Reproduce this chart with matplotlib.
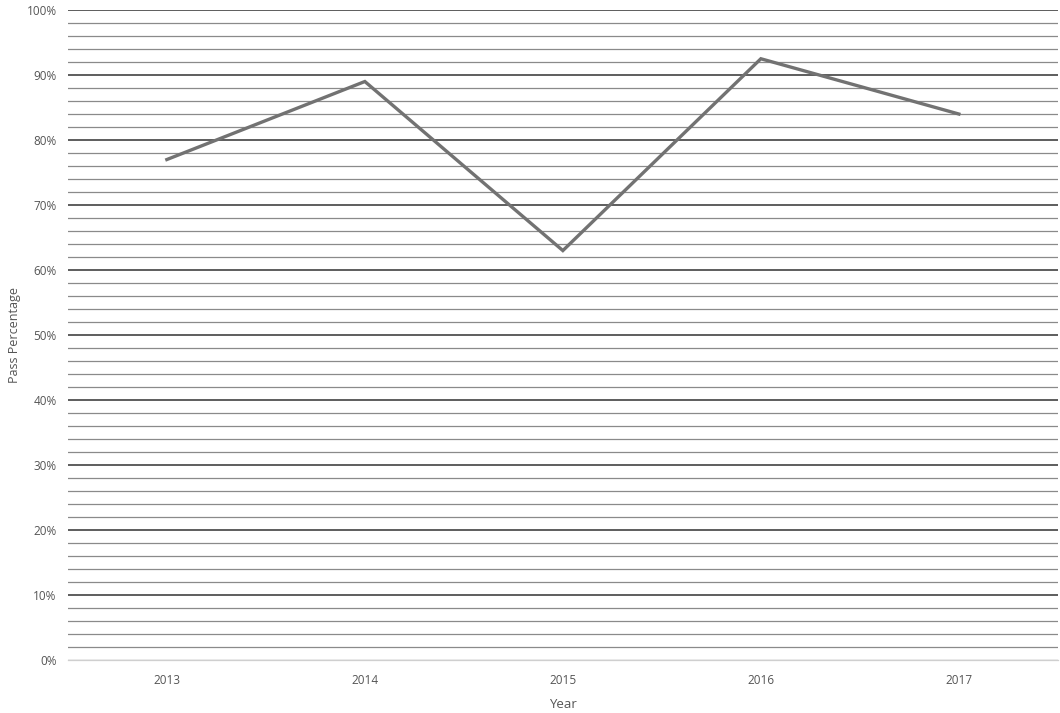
import matplotlib
matplotlib.use("Agg")
import matplotlib.pyplot as plt
from matplotlib.ticker import MultipleLocator, PercentFormatter

years = ["2013", "2014", "2015", "2016", "2017"]
pass_pct = [77, 89, 63, 92.5, 84]

plt.rcParams['font.family'] = ['Open Sans', 'DejaVu Sans']

fig = plt.figure(figsize=(10.6, 7.13), dpi=100)
ax = fig.add_axes([0.064, 0.074, 0.934, 0.912])

x = list(range(len(years)))
ax.plot(x, pass_pct, color="#727272", lw=2.4, solid_joinstyle="miter", zorder=3)

ax.set_xlim(-0.5, len(years) - 0.5)
ax.set_ylim(0, 100)
ax.set_xticks(x)
ax.set_xticklabels(years)
ax.yaxis.set_major_locator(MultipleLocator(10))
ax.yaxis.set_minor_locator(MultipleLocator(2))
ax.yaxis.set_major_formatter(PercentFormatter(decimals=0))

ax.grid(axis="y", which="major", color="#505050", lw=1.3)
ax.grid(axis="y", which="minor", color="#8a8a8a", lw=0.9)
ax.set_axisbelow(True)
# faint baseline at 0%
ax.axhline(0, color="white", lw=2.0, zorder=1, clip_on=False)
ax.axhline(0, color="#cfcfcf", lw=0.9, zorder=1.1, clip_on=False)

for s in ax.spines.values():
    s.set_visible(False)
ax.tick_params(axis="both", which="both", length=0, labelsize=8.5, colors="#555555")
ax.tick_params(axis="x", pad=10)
ax.tick_params(axis="y", pad=8)

ax.set_xlabel("Year", fontsize=9.5, color="#555555", labelpad=8)
ax.set_ylabel("Pass Percentage", fontsize=9, color="#555555", labelpad=4)

fig.savefig("out.png", dpi=100)
